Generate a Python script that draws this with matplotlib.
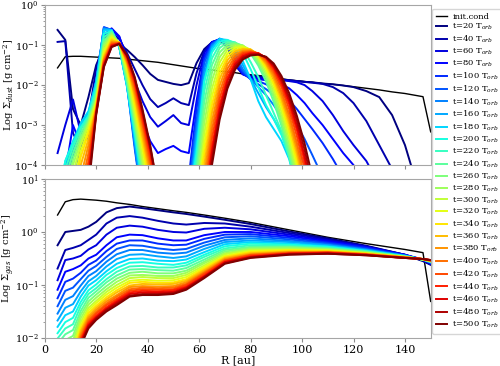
import numpy as np
import matplotlib.pyplot as plt

# radial grids [au]
r_dust = [5, 8, 11, 14, 17, 20, 23, 26, 29, 32, 35, 38, 41, 44, 47, 50, 53, 56,
          59, 62, 65, 68, 71, 74, 77, 80, 83, 86, 89, 92, 95, 98, 101, 104,
          108, 112, 116, 120, 125, 130, 135, 140, 147, 150]
r_gas = [5, 8, 11, 14, 17, 20, 24, 28, 33, 38, 44, 50, 55, 62, 70, 80, 95, 110,
         125, 140, 147, 150]

times = [20, 40, 60, 80, 100, 120, 140, 160, 180, 200, 220, 240, 260, 280, 300,
         320, 340, 360, 380, 400, 420, 440, 460, 480, 500]

# log10 of the dust surface density (-5 = below the plot)
dust_init = [-1.57, -1.29, -1.28, -1.28, -1.29, -1.30, -1.31, -1.32, -1.33, -1.35, -1.37, -1.39, -1.41, -1.43,
             -1.46, -1.49, -1.52, -1.55, -1.58, -1.60, -1.62, -1.65, -1.67, -1.69, -1.72, -1.74, -1.76, -1.78,
             -1.81, -1.84, -1.87, -1.89, -1.91, -1.93, -1.96, -1.98, -2.01, -2.04, -2.08, -2.12, -2.17, -2.21,
             -2.29, -3.17]
dust = [
    [-0.62, -0.87, -2.6, -3.0, -2.3, -1.5, -1.05, -0.93, -0.97, -1.12, -1.3, -1.5, -1.72, -1.87,
     -1.92, -1.97, -2.0, -1.95, -1.45, -1.1, -0.93, -0.88, -1.05, -1.45, -1.7, -1.76, -1.78, -1.8,
     -1.83, -1.86, -1.88, -1.9, -1.92, -1.93, -1.96, -1.98, -2.01, -2.05, -2.15, -2.3, -2.75, -3.5, -5, -5],
    [-0.92, -0.9, -3.2, -3.6, -2.8, -1.6, -0.85, -0.7, -0.85, -1.2, -1.6, -2.0, -2.35, -2.55,
     -2.45, -2.33, -2.45, -2.5, -1.7, -1.15, -0.93, -0.87, -1.05, -1.5, -1.72, -1.78, -1.8, -1.82,
     -1.84, -1.86, -1.88, -1.9, -1.92, -1.94, -1.97, -2.05, -2.2, -2.45, -2.9, -3.5, -4.1, -5, -5, -5],
    [-3.7, -3.0, -2.36, -3.2, -3.0, -1.9, -0.8, -0.62, -0.8, -1.3, -1.9, -2.4, -2.8, -3.04,
     -2.9, -2.75, -2.95, -3.0, -2.0, -1.2, -0.92, -0.86, -1.02, -1.5, -1.73, -1.8, -1.82, -1.84,
     -1.86, -1.88, -1.9, -1.93, -2.0, -2.15, -2.4, -2.75, -3.15, -3.5, -3.9, -4.5, -5, -5, -5, -5],
    [-5, -4.2, -3.0, -3.5, -3.3, -2.1, -0.75, -0.58, -0.78, -1.4, -2.2, -2.9, -3.4, -3.7,
     -3.6, -3.52, -3.65, -3.7, -2.4, -1.3, -0.93, -0.85, -1.0, -1.45, -1.73, -1.82, -1.85, -1.88,
     -1.92, -1.98, -2.08, -2.25, -2.45, -2.7, -3.0, -3.35, -3.7, -4.0, -4.5, -5, -5, -5, -5, -5],
    [-5, -5, -4.5, -3.6, -3.0, -2.0, -0.55, -0.62, -1.0, -1.9, -3.5, -5, -5, -5,
     -5, -5, -5, -4.3, -2.6, -1.35, -0.95, -0.85, -0.98, -1.4, -1.7, -1.85, -1.9, -1.98,
     -2.08, -2.2, -2.38, -2.6, -2.85, -3.1, -3.45, -3.85, -4.3, -5, -5, -5, -5, -5, -5, -5],
    [-5, -4.6, -3.8, -3.3, -2.9, -1.95, -0.56, -0.62, -1.05, -2.0, -3.6, -5, -5, -5,
     -5, -5, -5, -4.6, -2.9, -1.45, -0.97, -0.84, -0.95, -1.35, -1.65, -1.85, -1.98, -2.1,
     -2.25, -2.45, -2.7, -3.0, -3.35, -3.75, -4.3, -5, -5, -5, -5, -5, -5, -5, -5, -5],
    [-5, -4.2, -3.6, -3.1, -2.8, -1.9, -0.58, -0.62, -1.05, -2.0, -3.5, -5, -5, -5,
     -5, -5, -5, -4.8, -3.1, -1.6, -1.0, -0.84, -0.92, -1.25, -1.6, -1.85, -2.05, -2.25,
     -2.5, -2.8, -3.15, -3.55, -4.0, -4.6, -5, -5, -5, -5, -5, -5, -5, -5, -5, -5],
    [-5, -4.0, -3.5, -3.0, -2.7, -1.9, -0.6, -0.62, -1.05, -2.05, -3.4, -4.8, -5, -5,
     -5, -5, -5, -5, -3.3, -1.75, -1.05, -0.84, -0.9, -1.15, -1.5, -1.85, -2.2, -2.55,
     -2.85, -3.2, -3.6, -4.1, -5, -5, -5, -5, -5, -5, -5, -5, -5, -5, -5, -5],
    [-5, -3.9, -3.4, -2.95, -2.65, -1.95, -0.64, -0.63, -1.05, -2.05, -3.3, -4.6, -5, -5,
     -5, -5, -5, -5, -3.5, -1.9, -1.1, -0.85, -0.87, -1.05, -1.4, -1.85, -2.4, -2.8,
     -3.1, -3.4, -3.85, -4.6, -5, -5, -5, -5, -5, -5, -5, -5, -5, -5, -5, -5],
    [-5, -3.9, -3.45, -3.05, -2.75, -2.05, -0.72, -0.64, -1.02, -2.0, -3.2, -4.5, -5, -5,
     -5, -5, -5, -5, -3.7, -1.91, -1.18, -0.91, -0.87, -0.95, -1.2, -1.6, -2.05, -2.5,
     -2.85, -3.25, -3.8, -4.6, -5, -5, -5, -5, -5, -5, -5, -5, -5, -5, -5, -5],
    [-5, -4.1, -3.55, -3.1, -2.8, -2.15, -0.8, -0.66, -1.0, -1.95, -3.1, -4.4, -5, -5,
     -5, -5, -5, -5, -3.9, -2.16, -1.33, -0.98, -0.9, -0.93, -1.1, -1.42, -1.8, -2.25,
     -2.7, -3.15, -3.8, -4.6, -5, -5, -5, -5, -5, -5, -5, -5, -5, -5, -5, -5],
    [-5, -4.3, -3.7, -3.2, -2.85, -2.2, -0.88, -0.68, -0.98, -1.9, -3.0, -4.25, -5, -5,
     -5, -5, -5, -5, -4.1, -2.42, -1.5, -1.07, -0.94, -0.94, -1.02, -1.21, -1.51, -1.91,
     -2.42, -3.02, -3.74, -4.56, -5, -5, -5, -5, -5, -5, -5, -5, -5, -5, -5, -5],
    [-5, -4.6, -3.85, -3.3, -2.9, -2.3, -0.95, -0.7, -0.97, -1.82, -2.9, -4.1, -5, -5,
     -5, -5, -5, -5, -4.32, -2.68, -1.69, -1.18, -0.99, -0.96, -1.01, -1.18, -1.45, -1.82,
     -2.31, -2.91, -3.61, -4.42, -5, -5, -5, -5, -5, -5, -5, -5, -5, -5, -5, -5],
    [-5, -5, -4.0, -3.4, -2.95, -2.35, -1.02, -0.73, -0.96, -1.75, -2.8, -3.95, -5, -5,
     -5, -5, -5, -5, -4.64, -2.95, -1.88, -1.3, -1.05, -0.99, -1.01, -1.15, -1.39, -1.74,
     -2.21, -2.79, -3.48, -4.28, -5, -5, -5, -5, -5, -5, -5, -5, -5, -5, -5, -5],
    [-5, -5, -4.2, -3.5, -3.0, -2.4, -1.1, -0.76, -0.95, -1.68, -2.7, -3.8, -4.9, -5,
     -5, -5, -5, -5, -4.95, -3.22, -2.09, -1.43, -1.12, -1.03, -1.02, -1.12, -1.34, -1.66,
     -2.11, -2.67, -3.35, -4.14, -5, -5, -5, -5, -5, -5, -5, -5, -5, -5, -5, -5],
    [-5, -5, -4.5, -3.65, -3.1, -2.45, -1.18, -0.8, -0.94, -1.6, -2.55, -3.6, -4.7, -5,
     -5, -5, -5, -5, -5, -3.48, -2.29, -1.57, -1.21, -1.07, -1.05, -1.11, -1.29, -1.59,
     -2.01, -2.55, -3.22, -4.0, -4.9, -5, -5, -5, -5, -5, -5, -5, -5, -5, -5, -5],
    [-5, -5, -4.8, -3.8, -3.2, -2.5, -1.25, -0.84, -0.94, -1.53, -2.45, -3.45, -4.5, -5,
     -5, -5, -5, -5, -5, -3.74, -2.49, -1.71, -1.29, -1.12, -1.08, -1.11, -1.26, -1.54,
     -1.94, -2.45, -3.1, -3.86, -4.75, -5, -5, -5, -5, -5, -5, -5, -5, -5, -5, -5],
    [-5, -5, -5, -4.0, -3.35, -2.55, -1.3, -0.88, -0.94, -1.47, -2.3, -3.3, -4.3, -5,
     -5, -5, -5, -5, -5, -4.0, -2.69, -1.85, -1.38, -1.16, -1.1, -1.11, -1.23, -1.48,
     -1.85, -2.35, -2.97, -3.72, -4.6, -5, -5, -5, -5, -5, -5, -5, -5, -5, -5, -5],
    [-5, -5, -5, -4.3, -3.5, -2.6, -1.35, -0.92, -0.94, -1.42, -2.2, -3.15, -4.15, -5,
     -5, -5, -5, -5, -5, -4.26, -2.91, -2.01, -1.48, -1.22, -1.14, -1.13, -1.22, -1.44,
     -1.78, -2.26, -2.86, -3.59, -4.44, -5, -5, -5, -5, -5, -5, -5, -5, -5, -5, -5],
    [-5, -5, -5, -4.6, -3.7, -2.62, -1.4, -0.95, -0.95, -1.38, -2.1, -3.0, -4.0, -5,
     -5, -5, -5, -5, -5, -4.53, -3.12, -2.17, -1.59, -1.28, -1.17, -1.15, -1.21, -1.39,
     -1.71, -2.16, -2.74, -3.45, -4.29, -5, -5, -5, -5, -5, -5, -5, -5, -5, -5, -5],
    [-5, -5, -5, -5, -3.9, -2.65, -1.43, -0.98, -0.95, -1.34, -2.0, -2.9, -3.85, -4.9,
     -5, -5, -5, -5, -5, -4.79, -3.33, -2.33, -1.7, -1.35, -1.2, -1.17, -1.2, -1.35,
     -1.64, -2.05, -2.6, -3.28, -4.09, -5, -5, -5, -5, -5, -5, -5, -5, -5, -5, -5],
    [-5, -5, -5, -5, -4.1, -2.68, -1.47, -1.0, -0.96, -1.31, -1.93, -2.8, -3.7, -4.8,
     -5, -5, -5, -5, -5, -5, -3.55, -2.49, -1.81, -1.42, -1.24, -1.19, -1.2, -1.32,
     -1.58, -1.97, -2.48, -3.13, -3.91, -4.83, -5, -5, -5, -5, -5, -5, -5, -5, -5, -5],
    [-5, -5, -5, -5, -4.3, -2.7, -1.5, -1.02, -0.96, -1.28, -1.87, -2.7, -3.6, -4.7,
     -5, -5, -5, -5, -5, -5, -3.69, -2.61, -1.9, -1.48, -1.28, -1.21, -1.21, -1.31,
     -1.54, -1.9, -2.39, -3.02, -3.78, -4.66, -5, -5, -5, -5, -5, -5, -5, -5, -5, -5],
    [-5, -5, -5, -5, -4.45, -2.72, -1.53, -1.04, -0.97, -1.26, -1.83, -2.65, -3.55, -4.6,
     -5, -5, -5, -5, -5, -5, -3.86, -2.75, -2.01, -1.55, -1.32, -1.24, -1.23, -1.3,
     -1.5, -1.83, -2.3, -2.89, -3.62, -4.47, -5, -5, -5, -5, -5, -5, -5, -5, -5, -5],
    [-5, -5, -5, -5, -4.6, -2.75, -1.55, -1.05, -0.97, -1.25, -1.8, -2.6, -3.5, -4.6,
     -5, -5, -5, -5, -5, -5, -4.0, -2.86, -2.09, -1.61, -1.36, -1.26, -1.24, -1.29,
     -1.46, -1.77, -2.2, -2.77, -3.46, -4.29, -5, -5, -5, -5, -5, -5, -5, -5, -5, -5],
]

# log10 of the gas surface density
gas_init = [0.32, 0.57, 0.61, 0.62, 0.61, 0.60, 0.58, 0.55, 0.52, 0.48, 0.44, 0.40, 0.37, 0.32,
            0.26, 0.18, 0.04, -0.10, -0.22, -0.33, -0.39, -1.31]
gas = [
    [-0.25, 0.00, 0.02, 0.04, 0.10, 0.19, 0.37, 0.45, 0.48, 0.45, 0.41, 0.37, 0.34, 0.29, 0.23, 0.15, 0.01, -0.12, -0.26, -0.43, -0.55, -0.62],
    [-0.69, -0.34, -0.30, -0.25, -0.15, -0.05, 0.16, 0.27, 0.30, 0.27, 0.21, 0.16, 0.14, 0.17, 0.16, 0.10, -0.02, -0.14, -0.27, -0.43, -0.54, -0.61],
    [-0.91, -0.53, -0.50, -0.45, -0.33, -0.25, -0.05, 0.08, 0.12, 0.10, 0.04, 0.00, -0.01, 0.06, 0.08, 0.05, -0.05, -0.16, -0.28, -0.43, -0.53, -0.60],
    [-1.09, -0.75, -0.70, -0.63, -0.50, -0.43, -0.25, -0.10, -0.05, -0.06, -0.12, -0.16, -0.16, -0.06, 0.00, 0.00, -0.08, -0.18, -0.29, -0.43, -0.52, -0.59],
    [-1.25, -0.94, -0.88, -0.77, -0.62, -0.54, -0.36, -0.22, -0.16, -0.16, -0.22, -0.25, -0.24, -0.13, -0.05, -0.04, -0.11, -0.20, -0.30, -0.44, -0.52, -0.58],
    [-1.40, -1.11, -1.05, -0.89, -0.73, -0.64, -0.47, -0.32, -0.25, -0.26, -0.31, -0.34, -0.32, -0.20, -0.10, -0.08, -0.14, -0.22, -0.32, -0.44, -0.52, -0.58],
    [-1.54, -1.28, -1.21, -1.01, -0.83, -0.74, -0.56, -0.42, -0.34, -0.34, -0.39, -0.41, -0.39, -0.26, -0.15, -0.12, -0.17, -0.24, -0.33, -0.45, -0.52, -0.57],
    [-1.67, -1.43, -1.36, -1.12, -0.93, -0.83, -0.65, -0.51, -0.43, -0.42, -0.46, -0.49, -0.46, -0.32, -0.19, -0.16, -0.19, -0.25, -0.34, -0.45, -0.52, -0.57],
    [-1.79, -1.57, -1.50, -1.22, -1.01, -0.91, -0.74, -0.60, -0.51, -0.50, -0.54, -0.55, -0.52, -0.38, -0.23, -0.19, -0.22, -0.27, -0.35, -0.45, -0.52, -0.57],
    [-1.91, -1.70, -1.62, -1.32, -1.10, -0.99, -0.81, -0.68, -0.58, -0.57, -0.60, -0.62, -0.58, -0.43, -0.27, -0.22, -0.24, -0.28, -0.36, -0.46, -0.52, -0.56],
    [-2.01, -1.82, -1.74, -1.40, -1.17, -1.06, -0.89, -0.75, -0.65, -0.64, -0.67, -0.67, -0.63, -0.47, -0.31, -0.25, -0.26, -0.30, -0.37, -0.46, -0.52, -0.56],
    [-2.11, -1.93, -1.85, -1.49, -1.24, -1.12, -0.95, -0.82, -0.71, -0.70, -0.72, -0.73, -0.68, -0.52, -0.34, -0.28, -0.28, -0.31, -0.37, -0.46, -0.52, -0.56],
    [-2.20, -2.04, -1.96, -1.56, -1.31, -1.18, -1.02, -0.88, -0.77, -0.75, -0.78, -0.78, -0.73, -0.56, -0.37, -0.30, -0.29, -0.32, -0.38, -0.47, -0.52, -0.55],
    [-2.28, -2.14, -2.05, -1.63, -1.37, -1.24, -1.08, -0.94, -0.82, -0.81, -0.83, -0.83, -0.77, -0.59, -0.40, -0.32, -0.31, -0.33, -0.39, -0.47, -0.52, -0.55],
    [-2.36, -2.23, -2.14, -1.70, -1.43, -1.30, -1.13, -1.00, -0.87, -0.85, -0.87, -0.87, -0.81, -0.63, -0.42, -0.34, -0.33, -0.34, -0.40, -0.47, -0.52, -0.55],
    [-2.43, -2.31, -2.22, -1.76, -1.48, -1.34, -1.18, -1.05, -0.92, -0.90, -0.92, -0.91, -0.85, -0.66, -0.45, -0.36, -0.34, -0.35, -0.40, -0.47, -0.51, -0.55],
    [-2.50, -2.39, -2.30, -1.82, -1.53, -1.39, -1.23, -1.10, -0.96, -0.94, -0.96, -0.95, -0.89, -0.69, -0.47, -0.38, -0.35, -0.36, -0.41, -0.48, -0.51, -0.54],
    [-2.57, -2.46, -2.37, -1.87, -1.58, -1.43, -1.27, -1.14, -1.01, -0.98, -0.99, -0.98, -0.92, -0.72, -0.49, -0.40, -0.37, -0.37, -0.41, -0.48, -0.51, -0.54],
    [-2.62, -2.53, -2.44, -1.92, -1.62, -1.47, -1.31, -1.19, -1.04, -1.02, -1.03, -1.02, -0.95, -0.75, -0.51, -0.42, -0.38, -0.38, -0.42, -0.48, -0.51, -0.54],
    [-2.68, -2.59, -2.50, -1.97, -1.66, -1.51, -1.35, -1.22, -1.08, -1.05, -1.06, -1.05, -0.98, -0.77, -0.53, -0.43, -0.39, -0.38, -0.42, -0.48, -0.51, -0.54],
    [-2.73, -2.65, -2.56, -2.01, -1.70, -1.54, -1.38, -1.26, -1.11, -1.08, -1.09, -1.08, -1.00, -0.79, -0.54, -0.44, -0.40, -0.39, -0.43, -0.48, -0.51, -0.54],
    [-2.78, -2.71, -2.61, -2.05, -1.73, -1.58, -1.42, -1.29, -1.14, -1.11, -1.12, -1.10, -1.03, -0.82, -0.56, -0.46, -0.41, -0.39, -0.43, -0.49, -0.51, -0.53],
    [-2.82, -2.76, -2.66, -2.08, -1.76, -1.61, -1.45, -1.32, -1.17, -1.14, -1.14, -1.13, -1.05, -0.84, -0.57, -0.47, -0.41, -0.40, -0.43, -0.49, -0.51, -0.53],
    [-2.86, -2.81, -2.71, -2.12, -1.79, -1.63, -1.47, -1.35, -1.20, -1.17, -1.17, -1.15, -1.07, -0.85, -0.59, -0.48, -0.42, -0.41, -0.44, -0.49, -0.51, -0.53],
    [-2.90, -2.85, -2.75, -2.15, -1.82, -1.66, -1.50, -1.38, -1.22, -1.19, -1.19, -1.17, -1.09, -0.87, -0.60, -0.49, -0.43, -0.41, -0.44, -0.49, -0.51, -0.53],
]

plt.rcParams['font.family'] = 'DejaVu Serif'
plt.rcParams['mathtext.fontset'] = 'dejavuserif'
plt.rcParams['axes.unicode_minus'] = False

fig = plt.figure(figsize=(5, 3.66), dpi=100)
ax1 = fig.add_axes([0.0894, 0.549, 0.772, 0.437])
ax2 = fig.add_axes([0.0894, 0.0765, 0.772, 0.4345])
colors = plt.cm.jet(np.linspace(0, 1, len(times)))

panels = [(ax1, r_dust, dust_init, dust, (1e-4, 1)),
          (ax2, r_gas, gas_init, gas, (1e-2, 10))]
for ax, r, init, rows, ylim in panels:
    ax.plot(r, 10 ** np.array(init), color='k', lw=1.0, label='init.cond')
    for row, t, c in zip(rows, times, colors):
        ax.plot(r, 10 ** np.array(row), color=c, lw=1.4, label='t=%d T$_{orb}$' % t)
    ax.set_yscale('log')
    ax.set_xlim(0, 150)
    ax.set_ylim(*ylim)
    ax.set_xticks([0, 20, 40, 60, 80, 100, 120, 140])
    for s in ax.spines.values():
        s.set_color('0.65')
    ax.tick_params(which='both', colors='0.55', labelcolor='k')
    ax.tick_params(axis='x', labelsize=8, pad=2)
    ax.tick_params(axis='y', labelsize=7, pad=1.5)
    ax.tick_params(which='major', length=3)
    ax.tick_params(which='minor', length=1.5)

ax1.tick_params(labelbottom=False)
ax1.set_ylabel('Log $\\Sigma_{dust}$ [g cm$^{-2}$]', fontsize=7.2)
ax2.set_ylabel('Log $\\Sigma_{gas}$ [g cm$^{-2}$]', fontsize=7.2)
ax1.yaxis.set_label_coords(-0.074, 0.5)
ax2.yaxis.set_label_coords(-0.074, 0.5)
ax2.set_xlabel('R [au]', fontsize=8, labelpad=0)

handles, labels = ax1.get_legend_handles_labels()
fig.legend(handles, labels, loc='upper left', bbox_to_anchor=(0.864, 0.976),
           fontsize=6, handlelength=1.3, handletextpad=0.7, borderaxespad=0,
           borderpad=0.45, labelspacing=0.2, edgecolor='0.8')

fig.savefig('out.png', dpi=100)
